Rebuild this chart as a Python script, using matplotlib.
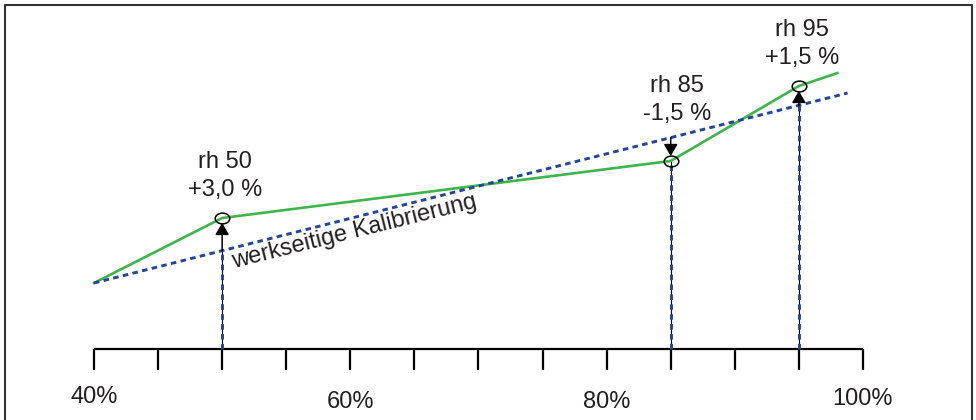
import numpy as np
import matplotlib.pyplot as plt
from matplotlib.path import Path
from matplotlib.transforms import Affine2D
from matplotlib.lines import Line2D

plt.rcParams['font.family'] = ['Liberation Sans', 'DejaVu Sans']

# green curve (after calibration) - rel. humidity vs. sensor value (arbitrary units)
rh_green = [40, 50, 85, 95, 98.0]
val_green = [5.15, 10.22, 14.67, 20.52, 21.53]

# factory calibration (straight dashed line)
rh_ref = [40, 98.8]
val_ref = [5.15, 19.97]
ref_text = 'werkseitige Kalibrierung'

# calibration points
cal_rh = [50, 85, 95]
cal_text = ['rh 50\n+3,0 %', 'rh 85\n-1,5 %', 'rh 95\n+1,5 %']

# axis
tick_rh = [40, 45, 50, 55, 60, 65, 70, 75, 80, 85, 90, 95, 100]
label_rh = [40, 60, 80, 100]
label_text = ['40%', '60%', '80%', '100%']

W, H = 976, 420
GREEN = '#3db54a'
BLUE = '#24449b'
TXT = '#231f20'
FS = 17

fig = plt.figure(figsize=(W / 100, H / 100), dpi=100)
ax = fig.add_axes([0, 0, 1, 1])
ax.set_xlim(32.667, 108.82)
ax.set_ylim(-5.54, 27.23)
ax.axis('off')

# frame around the figure
fig.add_artist(Line2D([5 / W, 5 / W, 972 / W, 972 / W], [0, 1 - 5 / H, 1 - 5 / H, 0],
                      transform=fig.transFigure, color='#333333', lw=1.5))

# x axis with ticks
ax.plot([tick_rh[0], tick_rh[-1]], [0, 0], color='black', lw=1.6, solid_capstyle='butt')
ax.vlines(tick_rh, -1.64, 0, color='black', lw=1.6)
label_off = [48, 53, 53, 50]   # px below the axis line
for x, t, off in zip(label_rh, label_text, label_off):
    ax.annotate(t, (x, 0), xytext=(0, -off), textcoords='offset pixels',
                ha='center', va='center', fontsize=FS, color=TXT)

green_at = np.interp(cal_rh, rh_green, val_green)
ref_at = np.interp(cal_rh, rh_ref, val_ref)

# vertical guides from the axis
for x, g, r in zip(cal_rh, green_at, ref_at):
    top = min(g, r)
    ax.plot([x, x], [0, top], color='black', lw=0.8, zorder=2)
    ax.plot([x, x], [0, top], color=BLUE, lw=2.1, dashes=(1.9, 1.5), zorder=3)

# factory line and green curve
ax.plot(rh_green, val_green, color=GREEN, lw=1.9, zorder=4)
ax.plot(rh_ref, val_ref, color=BLUE, lw=2.1, dashes=(1.9, 1.5), zorder=5)

# arrows from factory line to calibrated points
for x, g, r in zip(cal_rh, green_at, ref_at):
    ax.annotate('', xy=(x, g), xytext=(x, r),
                arrowprops=dict(arrowstyle='-|>,head_length=0.6,head_width=0.35',
                                color='black', lw=1.1, mutation_scale=12,
                                shrinkA=0, shrinkB=3.5), zorder=6)

ell = Path.unit_circle().transformed(Affine2D().scale(1.35, 1.0))
ax.plot(cal_rh, green_at, ls='none', marker=ell, ms=10.5, mfc='none', mec='black',
        mew=1.1, zorder=7)

# labels for the calibration points
text_off = [(3, 42), (6, 61), (3, 42)]
for x, g, t, off in zip(cal_rh, green_at, cal_text, text_off):
    ax.annotate(t, (x, g), xytext=off, textcoords='offset pixels',
                ha='center', va='center', multialignment='center',
                fontsize=FS, color=TXT, linespacing=1.35)

# label along the factory line
xm = 60.4
ax.annotate(ref_text, (xm, np.interp(xm, rh_ref, val_ref)), xytext=(0, -21),
            textcoords='offset pixels', ha='center', va='baseline',
            rotation=14, rotation_mode='anchor', fontsize=FS, color=TXT)

fig.savefig('out.png', dpi=100)
